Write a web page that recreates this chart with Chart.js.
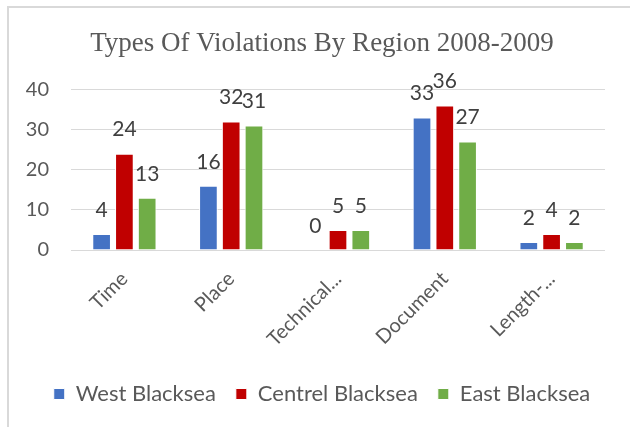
<!DOCTYPE html>
<html>
<head>
<meta charset="utf-8">
<script src="https://cdn.jsdelivr.net/npm/chart.js@4.4.1/dist/chart.umd.min.js"></script>
<style>
  html, body { margin: 0; padding: 0; background: #fff; }
  #wrap { position: relative; width: 630px; height: 427px; }
  #frame { position: absolute; left: 7px; top: 6px; right: 0; bottom: 0;
           border-left: 2px solid #d9d9d9; border-top: 2px solid #d9d9d9; }
  #chart { position: absolute; left: 0; top: 0; }
</style>
</head>
<body>
<div id="wrap">
  <div id="frame"></div>
  <canvas id="chart" width="630" height="427"></canvas>
</div>
<script>
var categories = ['Time', 'Place', 'Technical...', 'Document', 'Length-...'];
var westBlacksea = [4, 16, 0, 33, 2];
var centrelBlacksea = [24, 32, 5, 36, 4];
var eastBlacksea = [13, 31, 5, 27, 2];
var yTicks = [0, 10, 20, 30, 40];

var sansFont = "Lato, 'Open Sans', sans-serif";
var textGrey = '#595959';

// value labels drawn just above each bar
var barValues = {
    id: 'barValues',
    afterDatasetsDraw: function (chart) {
        var ctx = chart.ctx;
        ctx.save();
        ctx.font = '21px ' + sansFont;
        ctx.fillStyle = '#404040';
        ctx.textAlign = 'center';
        ctx.textBaseline = 'middle';
        chart.data.datasets.forEach(function (ds, i) {
            var meta = chart.getDatasetMeta(i);
            meta.data.forEach(function (bar, j) {
                ctx.fillText(String(ds.data[j]), bar.x, bar.y - 24);
            });
        });
        ctx.restore();
    }
};

new Chart(document.getElementById('chart'), {
    type: 'bar',
    data: {
        labels: categories,
        datasets: [
            { label: 'West Blacksea', data: westBlacksea, backgroundColor: '#4472C4' },
            { label: 'Centrel Blacksea', data: centrelBlacksea, backgroundColor: '#C00000' },
            { label: 'East Blacksea', data: eastBlacksea, backgroundColor: '#70AD47' }
        ]
    },
    options: {
        responsive: false,
        animation: false,
        layout: { padding: { left: 14, right: 0, top: 0, bottom: 12 } },
        datasets: {
            bar: {
                categoryPercentage: 0.64,
                barPercentage: 0.82,
                borderColor: '#ffffff',
                borderWidth: 1
            }
        },
        plugins: {
            title: {
                display: true,
                text: 'Types Of Violations By Region 2008-2009',
                color: textGrey,
                font: { family: "'Liberation Serif', serif", size: 27, weight: 'normal' },
                padding: { top: 28, bottom: 29 }
            },
            legend: {
                position: 'bottom',
                labels: {
                    color: textGrey,
                    font: { family: sansFont, size: 22 },
                    boxWidth: 11,
                    boxHeight: 11,
                    padding: 20
                }
            },
            tooltip: { enabled: false }
        },
        scales: {
            x: {
                grid: { display: false },
                border: { display: false },
                ticks: {
                    color: textGrey,
                    font: { family: sansFont, size: 20 },
                    minRotation: 45,
                    maxRotation: 45,
                    padding: 9
                },
                afterFit: function (scale) { scale.height = 113; }
            },
            y: {
                min: 0,
                max: 40,
                afterBuildTicks: function (scale) {
                    scale.ticks = yTicks.map(function (v) { return { value: v }; });
                },
                grid: { color: '#d9d9d9', lineWidth: 1, drawTicks: false },
                border: { display: false },
                ticks: {
                    color: textGrey,
                    font: { family: sansFont, size: 20 },
                    padding: 22
                },
                afterFit: function (scale) { scale.width = 57; }
            },
            // empty right-hand axis, only reserves the margin right of the plot
            yRight: {
                position: 'right',
                min: 0,
                max: 40,
                grid: { display: false, drawTicks: false },
                border: { display: false },
                ticks: { display: false },
                afterFit: function (scale) { scale.width = 25; }
            }
        }
    },
    plugins: [barValues]
});
</script>
</body>
</html>
